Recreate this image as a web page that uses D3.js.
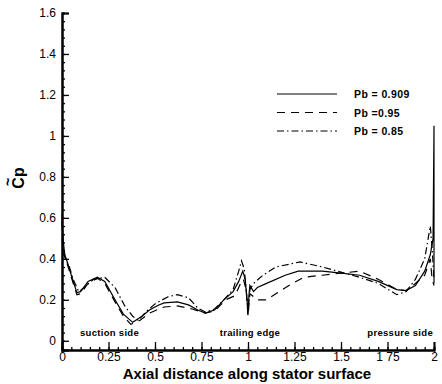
<!DOCTYPE html>
<html>
<head>
<meta charset="utf-8">
<script src="https://cdn.jsdelivr.net/npm/d3@7"></script>
<style>
  body { margin: 0; background: #fff; }
  text { font-family: "Liberation Sans", Arial, sans-serif; fill: #000; }
</style>
</head>
<body>
<script>
// chart size
var width = 442;
var height = 384;

// series: [x, Cp]
var pb0909 = [[0, 0.62], [0.005, 0.5], [0.015, 0.42], [0.03, 0.38], [0.05, 0.32], [0.08, 0.235],
  [0.1, 0.24], [0.14, 0.29], [0.19, 0.31], [0.23, 0.29], [0.285, 0.2], [0.33, 0.13], [0.38, 0.09],
  [0.43, 0.12], [0.47, 0.15], [0.52, 0.175], [0.55, 0.185], [0.62, 0.19], [0.68, 0.175], [0.73, 0.15],
  [0.77, 0.135], [0.82, 0.15], [0.87, 0.2], [0.92, 0.24], [0.95, 0.29], [0.972, 0.34], [0.985, 0.3],
  [0.995, 0.2], [1.0, 0.13], [1.005, 0.22], [1.01, 0.27], [1.03, 0.24], [1.05, 0.26], [1.1, 0.28],
  [1.2, 0.32], [1.27, 0.34], [1.4, 0.34], [1.5, 0.33], [1.6, 0.32], [1.7, 0.29], [1.8, 0.25],
  [1.85, 0.245], [1.9, 0.27], [1.95, 0.34], [1.98, 0.42], [1.995, 0.5], [2.0, 1.05], [2.0, 0.28]];

var pb095 = [[0, 0.58], [0.005, 0.48], [0.015, 0.41], [0.03, 0.37], [0.05, 0.31], [0.08, 0.225],
  [0.1, 0.23], [0.14, 0.28], [0.19, 0.305], [0.23, 0.28], [0.285, 0.19], [0.33, 0.12], [0.37, 0.08],
  [0.42, 0.1], [0.47, 0.135], [0.52, 0.155], [0.55, 0.165], [0.62, 0.17], [0.7, 0.155], [0.77, 0.135],
  [0.82, 0.145], [0.88, 0.2], [0.93, 0.22], [0.96, 0.28], [0.975, 0.3], [0.99, 0.25], [1.0, 0.12],
  [1.01, 0.23], [1.05, 0.2], [1.1, 0.2], [1.15, 0.23], [1.22, 0.27], [1.3, 0.31], [1.4, 0.32],
  [1.5, 0.33], [1.6, 0.34], [1.7, 0.3], [1.8, 0.25], [1.85, 0.245], [1.9, 0.28], [1.95, 0.32],
  [1.98, 0.4], [1.99, 0.3], [2.0, 0.27]];

var pb085 = [[0, 0.5], [0.01, 0.42], [0.02, 0.4], [0.04, 0.36], [0.06, 0.3], [0.09, 0.24],
  [0.12, 0.26], [0.17, 0.3], [0.23, 0.31], [0.285, 0.26], [0.34, 0.166], [0.38, 0.12], [0.41, 0.1],
  [0.45, 0.14], [0.5, 0.18], [0.57, 0.215], [0.62, 0.225], [0.68, 0.21], [0.73, 0.16], [0.77, 0.14],
  [0.82, 0.155], [0.87, 0.2], [0.92, 0.25], [0.95, 0.34], [0.965, 0.39], [0.98, 0.35], [0.99, 0.25],
  [1.0, 0.14], [1.01, 0.25], [1.03, 0.28], [1.08, 0.32], [1.15, 0.36], [1.28, 0.385], [1.4, 0.36],
  [1.5, 0.335], [1.6, 0.31], [1.7, 0.28], [1.8, 0.225], [1.85, 0.24], [1.9, 0.3], [1.95, 0.4],
  [1.98, 0.56], [1.99, 0.45], [2.0, 0.3]];

var seriesNames = ['Pb = 0.909', 'Pb =0.95', 'Pb = 0.85'];
var xTicks = [0, 0.25, 0.5, 0.75, 1, 1.25, 1.5, 1.75, 2];
var xTickLabels = ['0', '0.25', '0.5', '0.75', '1', '1.25', '1.5', '1 75', '2'];
var yTicks = [0, 0.2, 0.4, 0.6, 0.8, 1, 1.2, 1.4, 1.6];
var notes = [[0.25, 'suction side'], [1, 'trailing edge'], [2, 'pressure side']];

var dashes = [null, '8,6', '7,3,1.5,3'];

var svg = d3.select('body').append('svg')
  .attr('width', width)
  .attr('height', height);

var x = d3.scaleLinear().domain([0, 2]).range([62, 434]);
var y = d3.scaleLinear().domain([-0.045, 1.6]).range([350, 13]);

// axes, ticks pointing into the plot
var xAxis = d3.axisBottom(x).tickValues(xTicks).tickSize(-8)
  .tickFormat(function(d, i) { return xTickLabels[i]; });
var xMinor = d3.axisBottom(x).tickValues(d3.range(0, 2.001, 0.05)).tickSize(-3).tickFormat('');
var yAxis = d3.axisLeft(y).tickValues(yTicks).tickSize(-7).tickFormat(d3.format('~g'));
var yMinor = d3.axisLeft(y).tickValues(d3.range(0, 1.601, 0.04)).tickSize(-3).tickFormat('');

svg.append('g').attr('transform', 'translate(0,350)').call(xMinor);
svg.append('g').attr('transform', 'translate(62,0)').call(yMinor);
var gx = svg.append('g').attr('transform', 'translate(0,350)').call(xAxis);
var gy = svg.append('g').attr('transform', 'translate(62,0)').call(yAxis);

svg.selectAll('.domain').attr('stroke', '#000').attr('stroke-width', 2);
svg.selectAll('.tick line').attr('stroke', '#000').attr('stroke-width', 1.3);
gx.selectAll('text').attr('font-size', 12).attr('dy', '0.55em').attr('y', 4);
gy.selectAll('text').attr('font-size', 12).attr('x', -6);

// curves
var line = d3.line()
  .x(function(d) { return x(d[0]); })
  .y(function(d) { return y(d[1]); });

[pb0909, pb095, pb085].forEach(function(s, i) {
  svg.append('path')
    .datum(s)
    .attr('d', line)
    .attr('fill', 'none')
    .attr('stroke', '#000')
    .attr('stroke-width', 1.2)
    .attr('stroke-dasharray', dashes[i]);
});

// legend
seriesNames.forEach(function(name, i) {
  var ly = 94 + i * 18.5;
  svg.append('line')
    .attr('x1', 277).attr('x2', 337)
    .attr('y1', ly).attr('y2', ly)
    .attr('stroke', '#000').attr('stroke-width', 1.2)
    .attr('stroke-dasharray', dashes[i]);
  svg.append('text')
    .attr('x', 354).attr('y', ly + 4)
    .attr('font-size', 10.5).attr('font-weight', 'bold')
    .attr('letter-spacing', 0.4)
    .text(name);
});

// annotations
notes.forEach(function(n, i) {
  svg.append('text')
    .attr('x', i === 0 ? 80 : i === 1 ? 250 : 433)
    .attr('y', 336)
    .attr('text-anchor', i === 0 ? 'start' : i === 1 ? 'middle' : 'end')
    .attr('font-size', 9.5).attr('font-weight', 'bold')
    .attr('letter-spacing', 0.3)
    .text(n[1]);
});

// axis titles
svg.append('text')
  .attr('x', 247).attr('y', 379)
  .attr('text-anchor', 'middle')
  .attr('font-size', 15).attr('font-weight', 'bold')
  .text('Axial distance along stator surface');

var yt = svg.append('g').attr('transform', 'translate(24,178) rotate(-90)');
yt.append('text')
  .attr('text-anchor', 'middle')
  .attr('font-size', 16).attr('font-weight', 'bold')
  .text('Cp');
yt.append('text')
  .attr('x', -4).attr('y', -11)
  .attr('text-anchor', 'middle')
  .attr('font-size', 14).attr('font-weight', 'bold')
  .text('~');
</script>
</body>
</html>
